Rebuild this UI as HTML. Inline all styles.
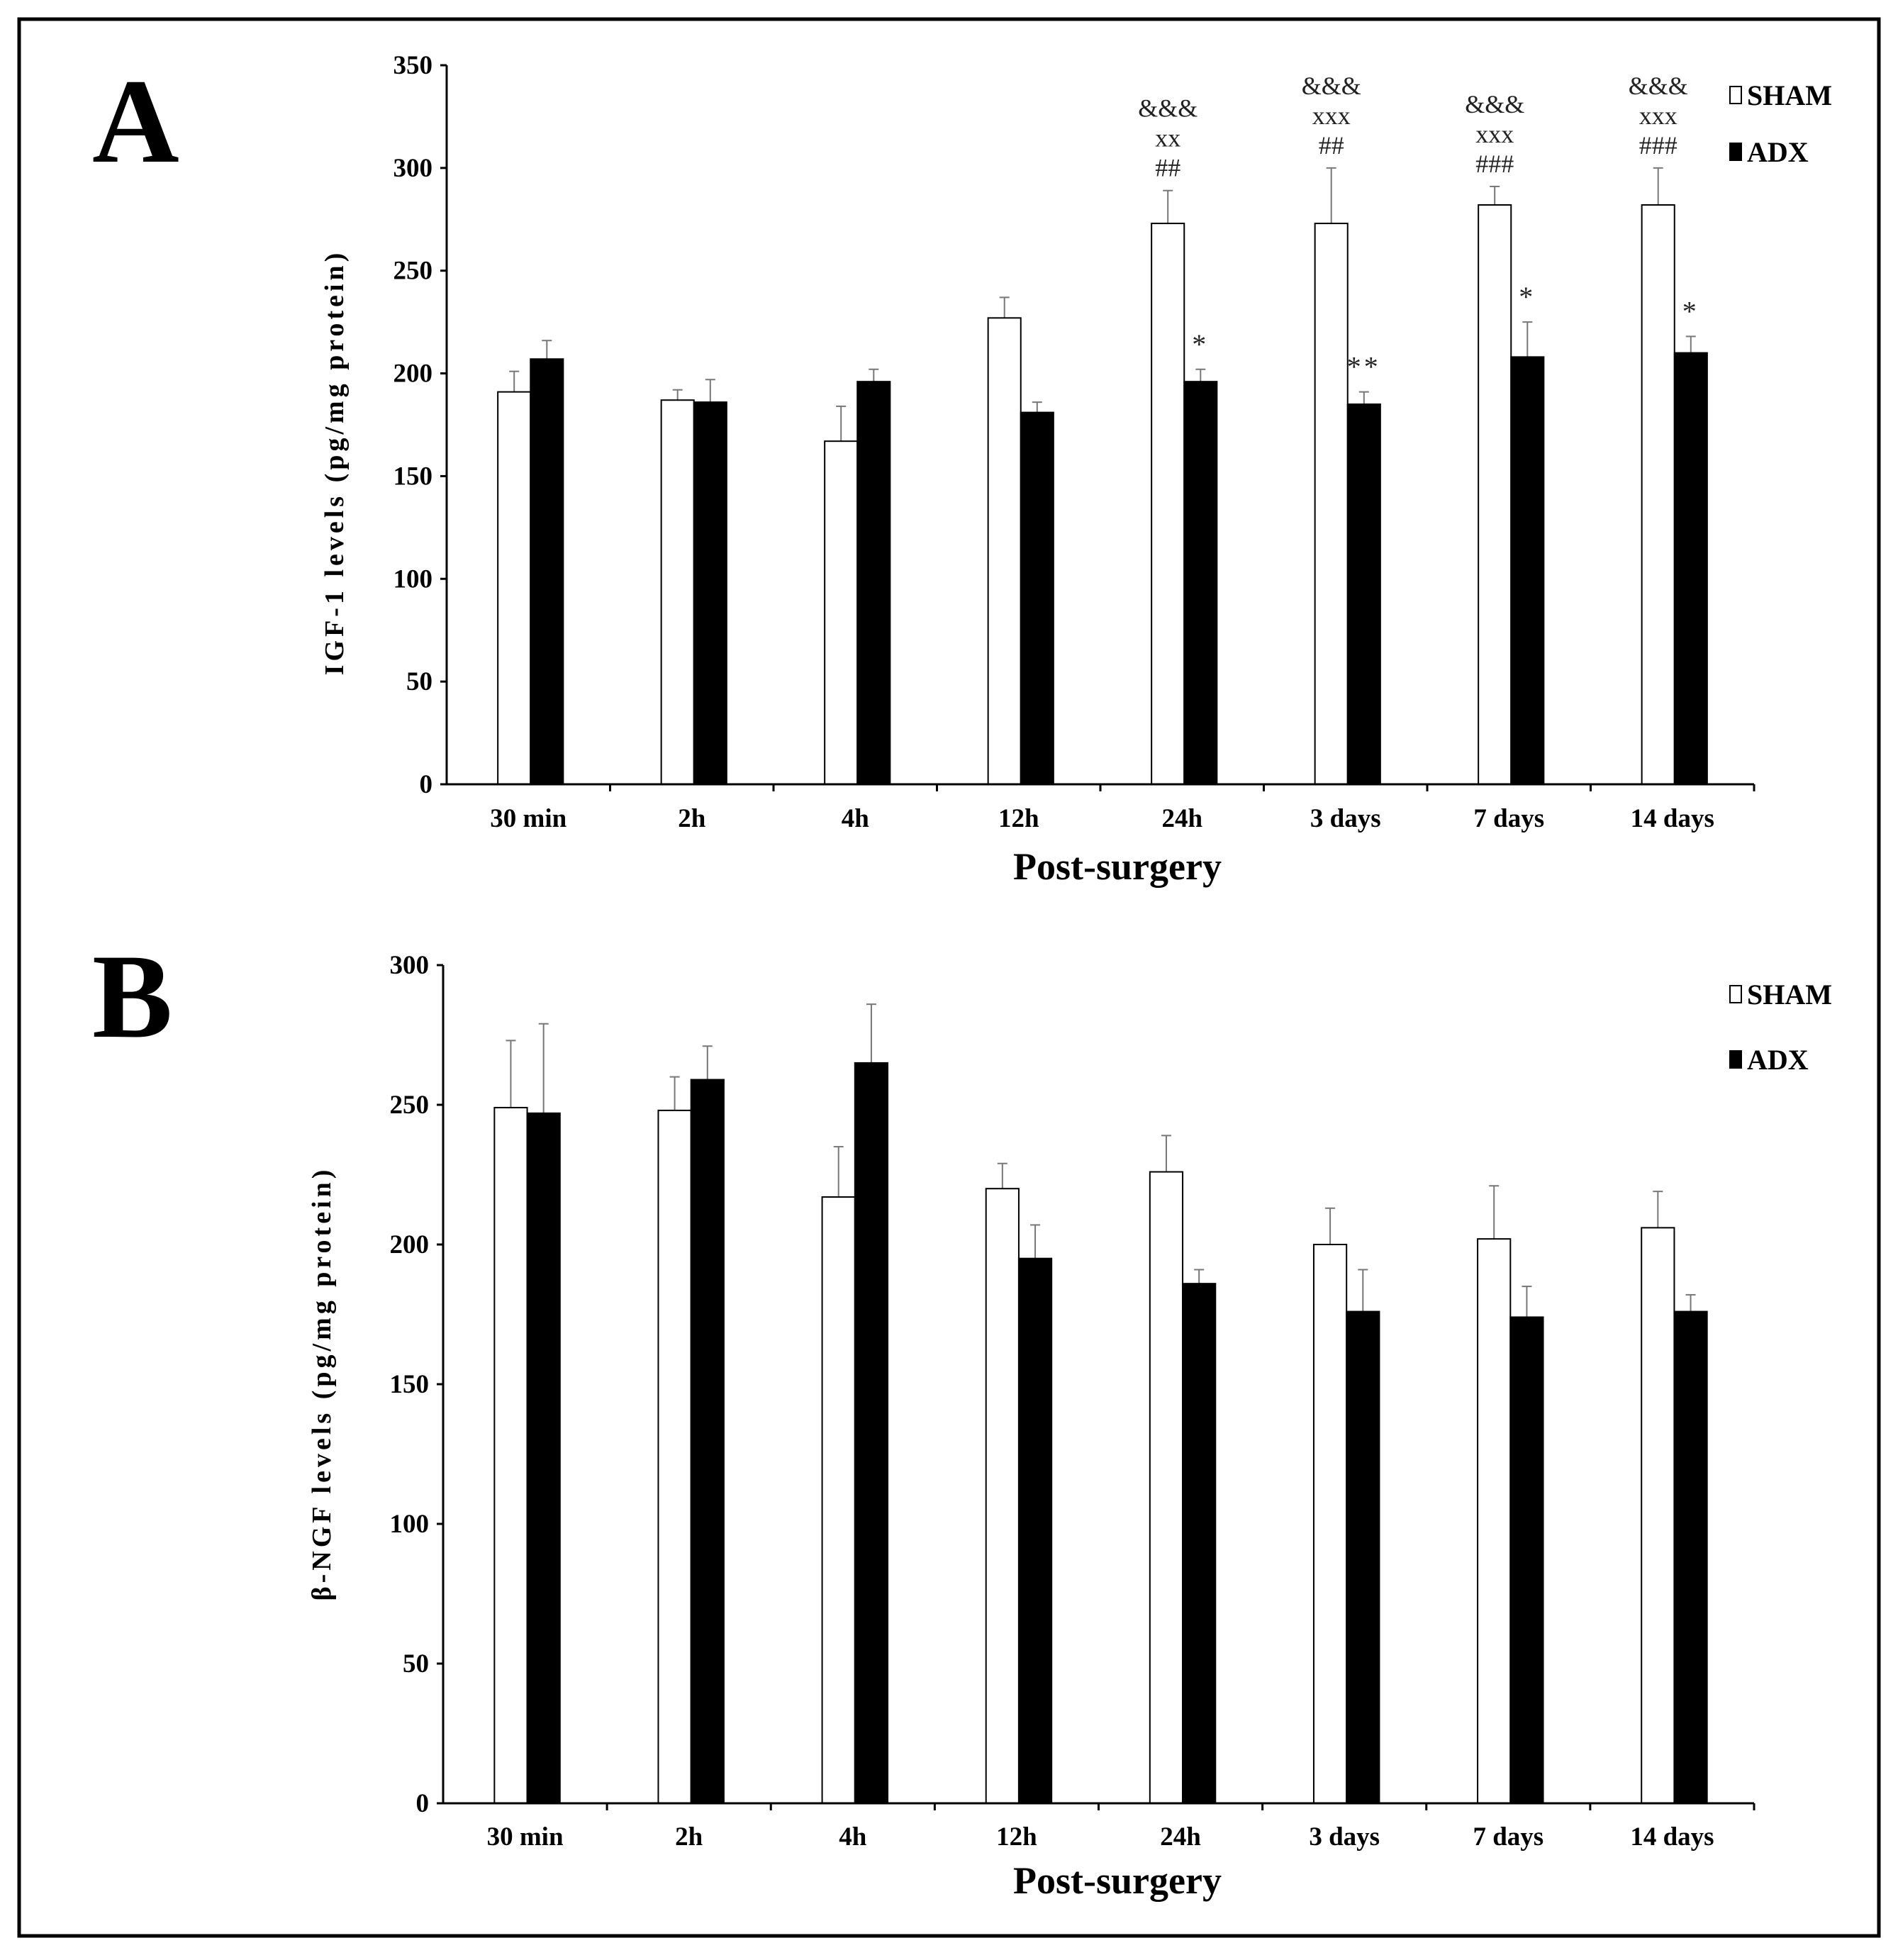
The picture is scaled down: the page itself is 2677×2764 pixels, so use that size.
<!DOCTYPE html>
<html><head><meta charset="utf-8"><style>
html,body{margin:0;padding:0;background:#fff}
svg{display:block}
text{font-family:"Liberation Serif",serif}
</style></head><body>
<svg id="fig" width="2677" height="2764" viewBox="0 0 2677 2764" xmlns="http://www.w3.org/2000/svg">
<rect x="27" y="27" width="2623" height="2703" fill="#fff" stroke="#000" stroke-width="5"/>
<g id="pa"></g>
<g id="pb"></g>
</svg>
<script>
const categories = ["30 min","2h","4h","12h","24h","3 days","7 days","14 days"];
const igfSham = [191,187,167,227,273,273,282,282];
const igfShamErr = [201,192,184,237,289,300,291,300];
const igfAdx = [207,186,196,181,196,185,208,210];
const igfAdxErr = [216,197,202,186,202,191,225,218];
const igfShamAnn = [[],[],[],[],["&&&","xx","##"],["&&&","xxx","##"],["&&&","xxx","###"],["&&&","xxx","###"]];
const igfAdxAnn = ["","","","","*","**","*","*"];
const igfTicks = [0,50,100,150,200,250,300,350];
const ngfSham = [249,248,217,220,226,200,202,206];
const ngfShamErr = [273,260,235,229,239,213,221,219];
const ngfAdx = [247,259,265,195,186,176,174,176];
const ngfAdxErr = [279,271,286,207,191,191,185,182];
const ngfTicks = [0,50,100,150,200,250,300];

const NS="http://www.w3.org/2000/svg";
function mk(parent,tag,attrs,txt){const e=document.createElementNS(NS,tag);for(const k in attrs)e.setAttribute(k,attrs[k]);if(txt!==undefined)e.textContent=txt;parent.appendChild(e);return e;}

function panel(g,cfg){
  const x0=cfg.x0,x1=2474,y0=cfg.y0,yTop=cfg.yTop,max=cfg.ticks[cfg.ticks.length-1];
  const y=v=>y0-(v/max)*(y0-yTop);
  const gw=(x1-x0)/categories.length;
  let t=mk(g,"text",{x:cfg.letterX,y:cfg.letterY,"font-size":170,"font-weight":"bold"},cfg.letter);
  
  
  let ax=mk(g,"line",{x1:x0,y1:yTop,x2:x0,y2:y0,stroke:"#000","stroke-width":3});
  
  
  cfg.ticks.forEach(v=>{
    mk(g,"line",{x1:x0-9,y1:y(v),x2:x0,y2:y(v),stroke:"#000","stroke-width":3});
    const tl=mk(g,"text",{x:x0-20,y:y(v)+12,"font-size":37,"font-weight":"bold","text-anchor":"end"},v);
    
    
  });
  const yt=mk(g,"text",{transform:`translate(${cfg.ytX},${cfg.ytY}) rotate(-90)`,"font-size":38,"font-weight":"bold","text-anchor":"middle","letter-spacing":"5"},cfg.ytitle);
  
  
  categories.forEach((c,i)=>{
    const gx=x0+i*gw;
    mk(g,"line",{x1:gx+gw,y1:y0,x2:gx+gw,y2:y0+10,stroke:"#000","stroke-width":3});
    const bw=gw*0.2, sx=gx+gw*0.3+3, axx=sx+bw;
    [[sx,cfg.sham[i],cfg.shamErr[i]],[axx,cfg.adx[i],cfg.adxErr[i]]].forEach(([bx,v,e])=>{
      const cx=bx+bw/2;
      mk(g,"line",{x1:cx,y1:y(v),x2:cx,y2:y(e),stroke:"#777","stroke-width":2});
      mk(g,"line",{x1:cx-7,y1:y(e),x2:cx+7,y2:y(e),stroke:"#777","stroke-width":2});
    });
    const b1=mk(g,"rect",{x:sx,y:y(cfg.sham[i]),width:bw,height:y0-y(cfg.sham[i]),fill:"#fff",stroke:"#000","stroke-width":2});
    
    
    const b2=mk(g,"rect",{x:axx,y:y(cfg.adx[i]),width:bw,height:y0-y(cfg.adx[i]),fill:"#000",stroke:"#000","stroke-width":2});
    
    
    const cl=mk(g,"text",{x:gx+gw/2,y:cfg.catY,"font-size":37,"font-weight":"bold","text-anchor":"middle"},c);
    
    
    if(cfg.shamAnn){
      const lines=cfg.shamAnn[i];
      lines.forEach((s,k)=>{
        const yy=y(cfg.shamErr[i])-20-(lines.length-1-k)*42;
        const a=mk(g,"text",{x:sx+bw/2,y:yy,"font-size":36,"text-anchor":"middle",fill:"#222"},s);
        
        
      });
      if(cfg.adxAnn[i]){
        const a=mk(g,"text",{x:axx+bw/2,y:y(cfg.adxErr[i])-22,"font-size":40,"text-anchor":"middle",fill:"#222","letter-spacing":"4"},cfg.adxAnn[i]);
        
        
      }
    }
  });
  const xa=mk(g,"line",{x1:x0,y1:y0,x2:x1,y2:y0,stroke:"#000","stroke-width":3});
  
  
  const xt=mk(g,"text",{x:1576,y:cfg.xtY,"font-size":54,"font-weight":"bold","text-anchor":"middle"},"Post-surgery");
  
  
  [["SHAM","#fff",cfg.legY1],["ADX","#000",cfg.legY2]].forEach(([n,f,ly])=>{
    const le=mk(g,"g",{});
    
    
    mk(le,"rect",{x:2440,y:ly-26,width:16,height:24,fill:f,stroke:"#000","stroke-width":2});
    mk(le,"text",{x:2464,y:ly,"font-size":40,"font-weight":"bold"},n);
  });
}
panel(document.getElementById("pa"),{letter:"A",letterX:130,letterY:228,x0:630,y0:1106,yTop:92,ticks:igfTicks,
  sham:igfSham,shamErr:igfShamErr,adx:igfAdx,adxErr:igfAdxErr,shamAnn:igfShamAnn,adxAnn:igfAdxAnn,
  ytitle:"IGF-1 levels  (pg/mg protein)",ytX:484,ytY:652,catY:1166,xtY:1240,legY1:148,legY2:228});
panel(document.getElementById("pb"),{letter:"B",letterX:130,letterY:1462,x0:625,y0:2543,yTop:1361,ticks:ngfTicks,
  sham:ngfSham,shamErr:ngfShamErr,adx:ngfAdx,adxErr:ngfAdxErr,
  ytitle:"β-NGF levels  (pg/mg protein)",ytX:466,ytY:1951,catY:2602,xtY:2670,legY1:1416,legY2:1508});
</script>
</body></html>
